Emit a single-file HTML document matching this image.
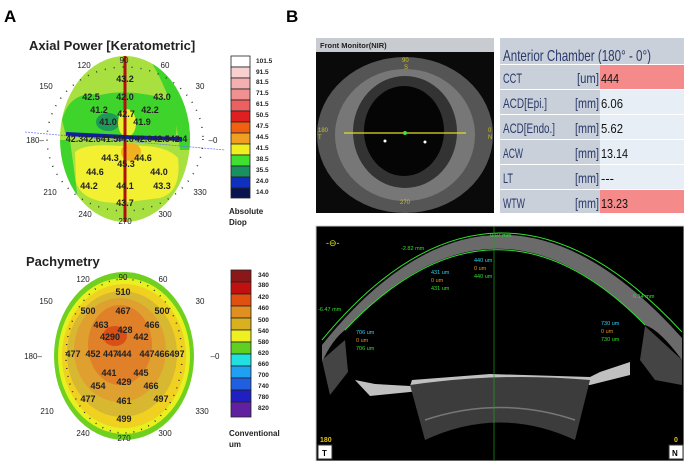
<!DOCTYPE html>
<html><head><meta charset="utf-8"><style>
body{margin:0;background:#fff;width:684px;height:461px;overflow:hidden;font-family:"Liberation Sans",sans-serif}
</style></head><body>
<svg width="684" height="461" xmlns="http://www.w3.org/2000/svg" font-family="Liberation Sans, sans-serif">
<rect width="684" height="461" fill="#fff"/>
<text x="4" y="22" font-size="17" font-weight="bold">A</text>
<text x="286" y="22" font-size="17" font-weight="bold">B</text>
<text x="29" y="50" font-size="13" font-weight="bold" fill="#222">Axial Power [Keratometric]</text>
<defs><clipPath id="ca"><ellipse cx="125" cy="139" rx="65" ry="83"/></clipPath>
<clipPath id="cp"><ellipse cx="124" cy="356" rx="70" ry="84"/></clipPath></defs>
<g clip-path="url(#ca)">
<rect x="55" y="50" width="140" height="180" fill="#a8e040"/>
<path d="M160 56 Q195 100 192 150 L180 150 Q175 100 150 60Z" fill="#3ed42c"/>
<path d="M62 120 Q70 90 100 95 Q130 88 170 100 Q178 120 176 136 L66 136Z" fill="#3ed42c"/>
<path d="M60 140 Q60 180 78 200 L70 140Z" fill="#3ed42c"/>
<ellipse cx="108" cy="122" rx="12" ry="9" fill="#1e9a58"/>
<ellipse cx="127" cy="123" rx="9" ry="14" fill="#e8f030"/>
<path d="M75 152 Q85 143 120 146 Q165 143 178 158 Q182 192 160 198 L120 203 Q82 203 76 182Z" fill="#f2f030"/>
<ellipse cx="131" cy="152" rx="10" ry="9" fill="#f0b020"/>
</g>
<path d="M125 56 L125 222" stroke="#b01010" stroke-width="3"/>
<path d="M66 134 L125 137 L182 139" stroke="#1020a0" stroke-width="4"/>
<path d="M25 132 L225 150" stroke="#6070ff" stroke-width="0.7" stroke-dasharray="2 1"/>
<g font-size="9" fill="#222" text-anchor="middle" font-weight="bold">
<text x="125" y="82">43.2</text><text x="91" y="100">42.5</text><text x="125" y="100">42.0</text><text x="162" y="100">43.0</text>
<text x="99" y="113">41.2</text><text x="126" y="117">42.7</text><text x="150" y="113">42.2</text>
<text x="108" y="125">41.0</text><text x="142" y="125">41.9</text>
<text x="92" y="142">42.342.641.5</text><text x="125" y="142">44.0</text><text x="161" y="142">42.042.542.4</text>
<text x="110" y="161">44.3</text><text x="143" y="161">44.6</text><text x="126" y="167">45.3</text>
<text x="95" y="175">44.6</text><text x="159" y="175">44.0</text>
<text x="89" y="189">44.2</text><text x="125" y="189">44.1</text><text x="162" y="189">43.3</text><text x="125" y="206">43.7</text>
</g>
<g font-size="8" fill="#222" text-anchor="middle">
<text x="124" y="63">90</text><text x="84" y="68">120</text><text x="165" y="68">60</text>
<text x="46" y="89">150</text><text x="200" y="89">30</text><text x="35" y="143">180–</text><text x="213" y="143">–0</text>
<text x="50" y="195">210</text><text x="200" y="195">330</text><text x="85" y="217">240</text><text x="165" y="217">300</text><text x="125" y="224">270</text>
</g>
<ellipse cx="125" cy="139" rx="78" ry="72" fill="none" stroke="#333" stroke-width="1.5" stroke-dasharray="1 8"/>
<g stroke="#222" stroke-width="0.8">
<rect x="231" y="56" width="19" height="11" fill="#fff"/><rect x="231" y="67" width="19" height="11" fill="#f8d0d0"/><rect x="231" y="78" width="19" height="11" fill="#f4b0b0"/><rect x="231" y="89" width="19" height="11" fill="#f09090"/><rect x="231" y="100" width="19" height="11" fill="#ec6060"/><rect x="231" y="111" width="19" height="11" fill="#e02020"/><rect x="231" y="122" width="19" height="11" fill="#f06010"/><rect x="231" y="133" width="19" height="11" fill="#f0a020"/><rect x="231" y="144" width="19" height="11" fill="#f0f020"/><rect x="231" y="155" width="19" height="11" fill="#40e030"/><rect x="231" y="166" width="19" height="11" fill="#1a9060"/><rect x="231" y="177" width="19" height="11" fill="#1030c0"/><rect x="231" y="188" width="19" height="10" fill="#0a1450"/>
</g>
<g font-size="6.5" fill="#222" font-weight="bold">
<text x="256" y="63">101.5</text><text x="256" y="74">91.5</text><text x="256" y="84">81.5</text><text x="256" y="95">71.5</text><text x="256" y="106">61.5</text><text x="256" y="117">50.5</text><text x="256" y="128">47.5</text><text x="256" y="139">44.5</text><text x="256" y="150">41.5</text><text x="256" y="161">38.5</text><text x="256" y="172">35.5</text><text x="256" y="183">24.0</text><text x="256" y="194">14.0</text>
</g>
<text x="229" y="214" font-size="8" font-weight="bold" fill="#222">Absolute</text><text x="229" y="225" font-size="8" font-weight="bold" fill="#222">Diop</text>
<text x="26" y="266" font-size="13" font-weight="bold" fill="#222">Pachymetry</text>
<g clip-path="url(#cp)">
<rect x="50" y="270" width="150" height="175" fill="#70d020"/>
<ellipse cx="124" cy="356" rx="66" ry="78" fill="#e8f020"/>
<ellipse cx="124" cy="356" rx="62" ry="72" fill="#f0d020"/>
<ellipse cx="122" cy="354" rx="55" ry="63" fill="#d8b830"/>
<ellipse cx="120" cy="350" rx="46" ry="52" fill="#e0a030"/>
<ellipse cx="120" cy="345" rx="32" ry="40" fill="#e08028"/>
<ellipse cx="115" cy="336" rx="12" ry="10" fill="#d85018"/>
</g>
<ellipse cx="124" cy="356" rx="58" ry="77" fill="none" stroke="#333" stroke-width="1.5" stroke-dasharray="1 7"/>
<g font-size="9" fill="#222" text-anchor="middle" font-weight="bold">
<text x="123" y="295">510</text><text x="88" y="314">500</text><text x="123" y="314">467</text><text x="162" y="314">500</text>
<text x="101" y="328">463</text><text x="152" y="328">466</text><text x="125" y="333">428</text><text x="110" y="340">4290</text><text x="141" y="340">442</text>
<text x="73" y="357">477</text><text x="93" y="357">452</text><text x="103" y="357" text-anchor="start">447</text><text x="124" y="357">444</text><text x="147" y="357">447</text><text x="162" y="357">466</text><text x="177" y="357">497</text>
<text x="109" y="376">441</text><text x="141" y="376">445</text><text x="124" y="385">429</text>
<text x="98" y="389">454</text><text x="151" y="389">466</text>
<text x="88" y="402">477</text><text x="124" y="404">461</text><text x="161" y="402">497</text><text x="124" y="422">499</text>
</g>
<g font-size="8" fill="#222" text-anchor="middle">
<text x="123" y="280">90</text><text x="83" y="282">120</text><text x="163" y="282">60</text>
<text x="46" y="304">150</text><text x="200" y="304">30</text><text x="33" y="359">180–</text><text x="215" y="359">–0</text>
<text x="47" y="414">210</text><text x="202" y="414">330</text><text x="83" y="436">240</text><text x="165" y="436">300</text><text x="124" y="441">270</text>
</g>
<g stroke="#222" stroke-width="0.8">
<rect x="231" y="270" width="20" height="12" fill="#8a1818"/><rect x="231" y="282" width="20" height="12" fill="#c01010"/><rect x="231" y="294" width="20" height="12" fill="#e05010"/><rect x="231" y="306" width="20" height="12" fill="#e09020"/><rect x="231" y="318" width="20" height="12" fill="#d8b020"/><rect x="231" y="330" width="20" height="12" fill="#f0f020"/><rect x="231" y="342" width="20" height="12" fill="#60d020"/><rect x="231" y="354" width="20" height="12" fill="#20e0e0"/><rect x="231" y="366" width="20" height="12" fill="#20a0f0"/><rect x="231" y="378" width="20" height="12" fill="#2060e0"/><rect x="231" y="390" width="20" height="12" fill="#2020c0"/><rect x="231" y="402" width="20" height="15" fill="#6020a0"/>
</g>
<g font-size="6.5" fill="#222" font-weight="bold">
<text x="258" y="277">340</text><text x="258" y="287">380</text><text x="258" y="299">420</text><text x="258" y="310">460</text><text x="258" y="322">500</text><text x="258" y="333">540</text><text x="258" y="344">580</text><text x="258" y="355">620</text><text x="258" y="366">660</text><text x="258" y="377">700</text><text x="258" y="388">740</text><text x="258" y="399">780</text><text x="258" y="410">820</text>
</g>
<text x="229" y="436" font-size="8" font-weight="bold" fill="#222">Conventional</text><text x="229" y="447" font-size="8" font-weight="bold" fill="#222">um</text>
<!-- front monitor -->
<rect x="316" y="38" width="178" height="175" fill="#0a0a0a"/>
<ellipse cx="405" cy="135" rx="88" ry="78" fill="#555"/>
<ellipse cx="405" cy="135" rx="70" ry="66" fill="#777"/>
<ellipse cx="405" cy="132" rx="52" ry="56" fill="#333"/>
<ellipse cx="404" cy="131" rx="40" ry="45" fill="#050505"/>
<rect x="316" y="38" width="178" height="14" fill="#c8ccd0"/>
<text x="320" y="48" font-size="7.5" font-weight="bold" fill="#222">Front Monitor(NIR)</text>
<line x1="344" y1="133" x2="466" y2="133" stroke="#e0e020" stroke-width="1.2"/>
<circle cx="405" cy="133" r="2" fill="#40e040"/>
<circle cx="385" cy="141" r="1.5" fill="#fff"/><circle cx="425" cy="142" r="1.5" fill="#fff"/>
<g font-size="6" fill="#c8c020"><text x="402" y="62">90</text><text x="404" y="69">S</text><text x="318" y="132">180</text><text x="318" y="139">T</text><text x="488" y="132">0</text><text x="488" y="139">N</text><text x="400" y="204">270</text></g>
<!-- table -->
<rect x="500" y="38" width="184" height="175" fill="#c9d0da"/>
<text x="503" y="61" font-size="16" fill="#2a3a6a" textLength="148" lengthAdjust="spacingAndGlyphs">Anterior Chamber (180° - 0°)</text>
<g font-size="14" fill="#2a3a6a">
<rect x="600" y="65" width="84" height="24" fill="#f48a8a"/><rect x="600" y="90" width="84" height="24" fill="#e8eef6"/><rect x="600" y="115" width="84" height="24" fill="#e8eef6"/><rect x="600" y="140" width="84" height="24" fill="#e8eef6"/><rect x="600" y="165" width="84" height="24" fill="#e8eef6"/><rect x="600" y="190" width="84" height="23" fill="#f48a8a"/>
<g stroke="#fff" stroke-width="1"><line x1="500" y1="64.5" x2="684" y2="64.5"/><line x1="500" y1="89.5" x2="684" y2="89.5"/><line x1="500" y1="114.5" x2="684" y2="114.5"/><line x1="500" y1="139.5" x2="684" y2="139.5"/><line x1="500" y1="164.5" x2="684" y2="164.5"/><line x1="500" y1="189.5" x2="684" y2="189.5"/></g>
<text x="503" y="83" textLength="19" lengthAdjust="spacingAndGlyphs">CCT</text><text x="503" y="108" textLength="44" lengthAdjust="spacingAndGlyphs">ACD[Epi.]</text><text x="503" y="133" textLength="52" lengthAdjust="spacingAndGlyphs">ACD[Endo.]</text><text x="503" y="158" textLength="20" lengthAdjust="spacingAndGlyphs">ACW</text><text x="503" y="183" textLength="10" lengthAdjust="spacingAndGlyphs">LT</text><text x="503" y="208" textLength="22" lengthAdjust="spacingAndGlyphs">WTW</text>
<g text-anchor="end"><text x="599" y="83" textLength="22" lengthAdjust="spacingAndGlyphs">[um]</text><text x="599" y="108" textLength="24" lengthAdjust="spacingAndGlyphs">[mm]</text><text x="599" y="133" textLength="24" lengthAdjust="spacingAndGlyphs">[mm]</text><text x="599" y="158" textLength="24" lengthAdjust="spacingAndGlyphs">[mm]</text><text x="599" y="183" textLength="24" lengthAdjust="spacingAndGlyphs">[mm]</text><text x="599" y="208" textLength="24" lengthAdjust="spacingAndGlyphs">[mm]</text></g>
<g fill="#111" font-size="13"><text x="601" y="83" textLength="18" lengthAdjust="spacingAndGlyphs">444</text><text x="601" y="108" textLength="22" lengthAdjust="spacingAndGlyphs">6.06</text><text x="601" y="133" textLength="22" lengthAdjust="spacingAndGlyphs">5.62</text><text x="601" y="158" textLength="27" lengthAdjust="spacingAndGlyphs">13.14</text><text x="601" y="183">---</text><text x="601" y="208" textLength="27" lengthAdjust="spacingAndGlyphs">13.23</text></g>
</g>
<!-- OCT -->
<rect x="316" y="226" width="368" height="235" fill="#000"/>
<rect x="316" y="226" width="368" height="235" fill="none" stroke="#ccc" stroke-width="1"/>
<path d="M322 345 Q495 128 682 338 L682 360 Q660 330 645 325 Q495 170 345 330 Q332 340 322 362Z" fill="#6a6a6a"/>
<path d="M322 340 Q495 130 682 332" fill="none" stroke="#30e030" stroke-width="1"/>
<path d="M345 330 Q495 172 645 325" fill="none" stroke="#30e030" stroke-width="1"/>
<path d="M322 360 L345 340 L348 372 L330 395Z" fill="#444"/>
<path d="M682 360 L645 326 L640 360 L655 380 L682 385Z" fill="#444"/>
<path d="M355 380 L375 384 L410 386 L412 380 L490 374 L590 377 L600 372 L630 362 L630 375 L590 385 L500 382 L410 392 L370 396Z" fill="#c0c0c0"/>
<path d="M410 385 Q500 372 590 380 L575 440 Q500 405 425 440Z" fill="#3c3c3c"/>
<path d="M425 420 Q500 395 575 420" fill="none" stroke="#777" stroke-width="1.5"/>
<line x1="494" y1="226" x2="494" y2="461" stroke="#20a020" stroke-width="0.7"/>
<g font-size="5.5">
<text x="490" y="237" fill="#30e030">0.07 mm</text><text x="401" y="250" fill="#30e030">-2.82 mm</text><text x="633" y="298" fill="#30e030">6.14 mm</text><text x="318" y="311" fill="#30e030">-6.47 mm</text>
<text x="474" y="262" fill="#30d0f0">440 um</text><text x="474" y="270" fill="#e09020">0 um</text><text x="474" y="278" fill="#30e030">440 um</text>
<text x="431" y="274" fill="#30d0f0">431 um</text><text x="431" y="282" fill="#e09020">0 um</text><text x="431" y="290" fill="#30e030">431 um</text>
<text x="356" y="334" fill="#30d0f0">706 um</text><text x="356" y="342" fill="#e09020">0 um</text><text x="356" y="350" fill="#30e030">706 um</text>
<text x="601" y="325" fill="#30d0f0">730 um</text><text x="601" y="333" fill="#e09020">0 um</text><text x="601" y="341" fill="#30e030">730 um</text>
</g>
<text x="326" y="246" font-size="9" fill="#e0e020">-⊖-</text>
<text x="320" y="442" font-size="7" font-weight="bold" fill="#e0c020">180</text><text x="674" y="442" font-size="7" font-weight="bold" fill="#e0c020">0</text>
<rect x="318" y="445" width="14" height="14" fill="#fff" stroke="#333"/><text x="322" y="456" font-size="8" font-weight="bold">T</text>
<rect x="669" y="445" width="14" height="14" fill="#fff" stroke="#333"/><text x="672" y="456" font-size="8" font-weight="bold">N</text>
</svg>
</body></html>
